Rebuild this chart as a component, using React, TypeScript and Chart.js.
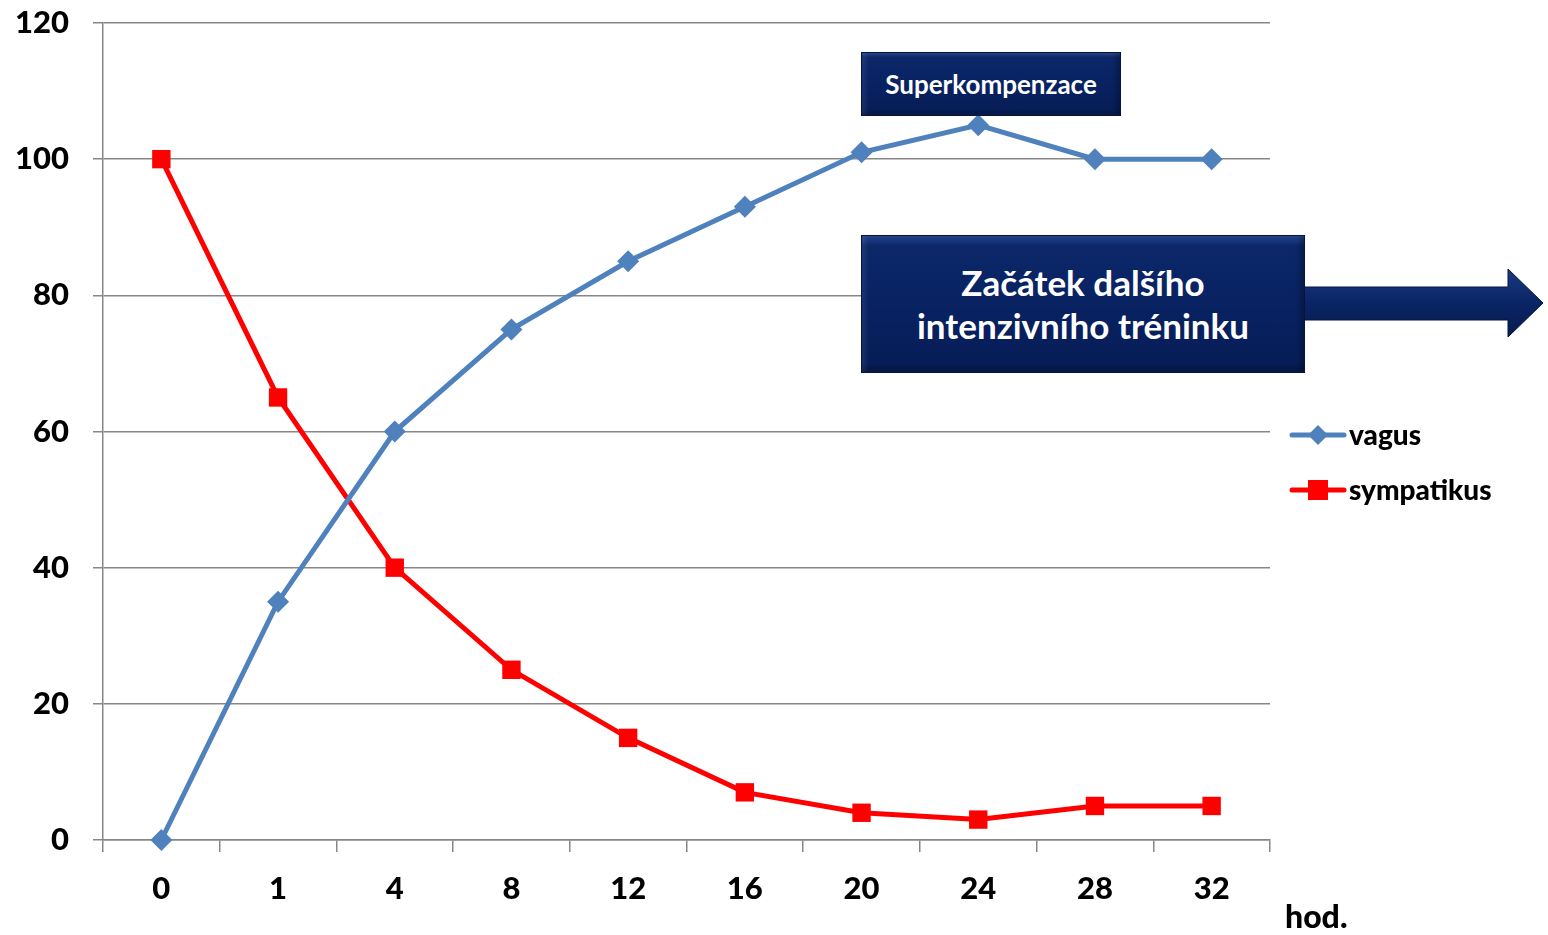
import React, { useEffect, useRef } from "react";
import { Chart, registerables } from "chart.js";

Chart.register(...registerables);

// ---- data ----
const hours = ["0", "1", "4", "8", "12", "16", "20", "24", "28", "32"];
const vagus = [0, 35, 60, 75, 85, 93, 101, 105, 100, 100];
const sympatikus = [100, 65, 40, 25, 15, 7, 4, 3, 5, 5];
const seriesNames = ["vagus", "sympatikus"];
const seriesColors = ["#4F81BD", "#FF0000"];
const yMin = 0;
const yMax = 120;
const yStep = 20;
const xUnitLabel = "hod.";
const noteTop = "Superkompenzace";
const noteMain = ["Začátek dalšího", "intenzivního tréninku"];

const FONT = "Lato, 'Open Sans', sans-serif";
const WEIGHT = "900";
const GRID = "#878787";

const extrasPlugin = {
  id: "extras",
  afterDraw(chart: any) {
    const ctx = chart.ctx as CanvasRenderingContext2D;
    const area = chart.chartArea;
    ctx.save();
    // legend
    chart.data.datasets.forEach((ds: any, i: number) => {
      const y = 435 + i * 55;
      const x0 = area.right + 22;
      const x1 = area.right + 74;
      const cx = (x0 + x1) / 2;
      ctx.strokeStyle = ds.borderColor;
      ctx.lineWidth = 5;
      ctx.lineCap = "round";
      ctx.beginPath();
      ctx.moveTo(x0, y);
      ctx.lineTo(x1, y);
      ctx.stroke();
      ctx.fillStyle = ds.borderColor;
      ctx.beginPath();
      if (ds.pointStyle === "rectRot") {
        const r = 10;
        ctx.moveTo(cx, y - r);
        ctx.lineTo(cx + r, y);
        ctx.lineTo(cx, y + r);
        ctx.lineTo(cx - r, y);
        ctx.closePath();
      } else {
        const s = 10;
        ctx.rect(cx - s, y - s, 2 * s, 2 * s);
      }
      ctx.fill();
      ctx.fillStyle = "#000";
      ctx.font = `${WEIGHT} 28px ${FONT}`;
      ctx.textAlign = "left";
      ctx.textBaseline = "middle";
      ctx.fillText(ds.label, x1 + 5, y + 1);
    });
    // x unit label
    ctx.fillStyle = "#000";
    ctx.font = `${WEIGHT} 32px ${FONT}`;
    ctx.textAlign = "left";
    ctx.textBaseline = "alphabetic";
    ctx.fillText(xUnitLabel, area.right + 15, 928);
    ctx.restore();
  },
};

const boxStyle: React.CSSProperties = {
  position: "absolute",
  boxSizing: "border-box",
  background: "linear-gradient(to bottom, #234591 0%, #0c2868 7%, #082262 50%, #071d57 93%, #041543 100%)",
  border: "1px solid #04143f",
  boxShadow: "inset 4px 0 4px rgba(255,255,255,0.08), inset -4px 0 4px rgba(0,0,0,0.25)",
  color: "#fff",
  fontFamily: FONT,
  fontWeight: 700,
  display: "flex",
  flexDirection: "column",
  alignItems: "center",
  justifyContent: "center",
  textAlign: "center",
};

export default function App() {
  const canvasRef = useRef<HTMLCanvasElement | null>(null);

  useEffect(() => {
    const canvas = canvasRef.current;
    if (!canvas) return;
    const chart = new Chart(canvas, {
      type: "line",
      data: {
        labels: hours,
        datasets: [
          {
            label: seriesNames[0],
            data: vagus,
            borderColor: seriesColors[0],
            backgroundColor: seriesColors[0],
            pointBackgroundColor: seriesColors[0],
            pointBorderColor: seriesColors[0],
            borderWidth: 5,
            pointStyle: "rectRot",
            pointRadius: 11,
            pointBorderWidth: 0,
            tension: 0,
            clip: false,
          },
          {
            label: seriesNames[1],
            data: sympatikus,
            borderColor: seriesColors[1],
            backgroundColor: seriesColors[1],
            pointBackgroundColor: seriesColors[1],
            pointBorderColor: seriesColors[1],
            borderWidth: 5,
            pointStyle: "rect",
            pointRadius: 13,
            pointBorderWidth: 0,
            tension: 0,
            clip: false,
          },
        ],
      },
      options: {
        responsive: false,
        animation: false,
        layout: { padding: { top: 23, right: 278, left: 0, bottom: 0 } },
        plugins: { legend: { display: false }, tooltip: { enabled: false } },
        scales: {
          x: {
            type: "category",
            offset: true,
            grid: {
              offset: true,
              drawOnChartArea: false,
              drawTicks: true,
              tickLength: 12,
              color: GRID,
              lineWidth: 1.5,
            },
            border: { display: true, color: GRID, width: 1.5 },
            ticks: {
              color: "#000",
              font: { family: FONT, size: 31, weight: WEIGHT },
              padding: 18,
              maxRotation: 0,
              autoSkip: false,
            },
            afterFit: (scale: any) => {
              scale.height = 95;
            },
          },
          y: {
            min: yMin,
            max: yMax,
            grid: {
              color: GRID,
              lineWidth: 1.5,
              drawTicks: true,
              tickLength: 10,
            },
            border: { display: true, color: GRID, width: 1.5 },
            ticks: {
              stepSize: yStep,
              color: "#000",
              font: { family: FONT, size: 31, weight: WEIGHT },
              padding: 24,
            },
            afterFit: (scale: any) => {
              scale.width = 103;
              scale.paddingTop = 0;
              scale.paddingBottom = 0;
            },
          },
        },
      },
      plugins: [extrasPlugin],
    });
    return () => chart.destroy();
  }, []);

  return (
    <div style={{ position: "fixed", left: 0, top: 0, width: 1548, height: 935, background: "#fff" }}>
      <canvas ref={canvasRef} width={1548} height={935} style={{ position: "absolute", left: 0, top: 0 }} />
      <svg
        width={1548}
        height={935}
        style={{ position: "absolute", left: 0, top: 0, pointerEvents: "none" }}
      >
        <defs>
          <linearGradient id="arrowGrad" x1="0" y1="0" x2="0" y2="1">
            <stop offset="0%" stopColor="#1b3a82" />
            <stop offset="50%" stopColor="#0a2565" />
            <stop offset="100%" stopColor="#061a4d" />
          </linearGradient>
        </defs>
        <polygon
          points="1297,287 1508,287 1508,269 1543,303 1508,337 1508,320 1297,320"
          fill="url(#arrowGrad)"
          stroke="#04143f"
          strokeWidth={1}
        />
      </svg>
      <div style={{ ...boxStyle, left: 861, top: 52, width: 260, height: 64, fontSize: 26 }}>
        {noteTop}
      </div>
      <div style={{ ...boxStyle, left: 861, top: 235, width: 444, height: 138, fontSize: 35, lineHeight: "43px" }}>
        <div>{noteMain[0]}</div>
        <div>{noteMain[1]}</div>
      </div>
    </div>
  );
}
